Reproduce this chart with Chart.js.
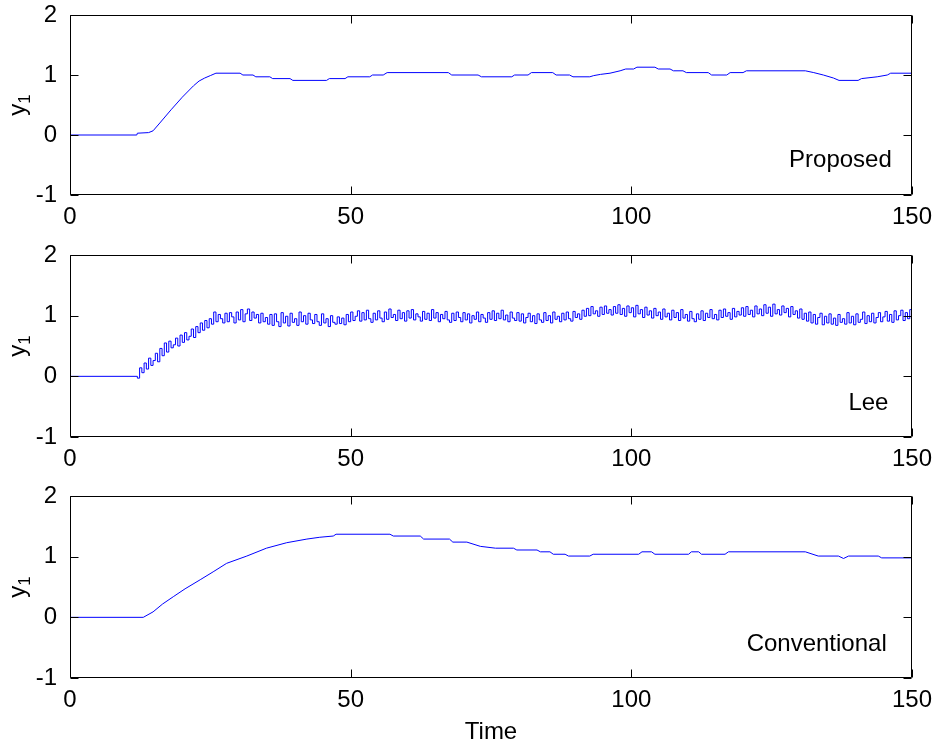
<!DOCTYPE html>
<html><head><meta charset="utf-8">
<script src="https://cdn.jsdelivr.net/npm/chart.js@4/dist/chart.umd.min.js"></script>
<style>
html,body{margin:0;padding:0;background:#fff;}
#wrap{position:relative;width:936px;height:749px;overflow:hidden;background:#fff;}
canvas{position:absolute;left:0;}
</style></head><body>
<div id="wrap">
<canvas id="c1" width="936" height="240" style="top:0px"></canvas>
<canvas id="c2" width="936" height="242" style="top:240px"></canvas>
<canvas id="c3" width="936" height="268" style="top:481px"></canvas>
</div>
<script>
// ---- tick labels ----
const xTicks = [0, 50, 100, 150];
const yTicks = [-1, 0, 1, 2];

// ---- Proposed ----
const propT = [0,11.9,12,14,14.8,16,18,20,22,23,24,25,26,30.3,30.8,32.6,33.1,35.6,36.1,39.2,39.7,45.7,46.2,49,49.5,53.4,53.9,55.8,56.5,67.4,68,72.7,73.3,78.7,79.2,81.6,82.2,86,86.6,89,89.6,92.6,93.3,94.5,96.2,98,99,100.4,101,104.2,104.8,106.9,107.5,109.2,109.8,113.7,114.3,117,117.6,119.9,120.5,131,132.5,134.2,136,137,140.4,141,143.8,145.6,146.2,150];
const propY = [0,0,0.03,0.04,0.07,0.2,0.42,0.63,0.82,0.9,0.95,0.99,1.03,1.03,1.0,1.0,0.97,0.97,0.94,0.94,0.91,0.91,0.94,0.94,0.97,0.97,1.0,1.0,1.04,1.04,1.0,1.0,0.97,0.97,1.0,1.0,1.04,1.04,1.0,1.0,0.97,0.97,0.99,1.01,1.03,1.07,1.1,1.1,1.13,1.13,1.1,1.1,1.07,1.07,1.04,1.04,1.0,1.0,1.04,1.04,1.07,1.07,1.04,1.0,0.95,0.91,0.91,0.94,0.97,1.0,1.03,1.03];

// ---- Lee (sampled every 0.4 from t = 12) ----
const leeStartT = 12;
const leeDt = 0.4;
const leeY = [
-0.03,0.14,0.06,0.22,0.12,0.30,0.18,0.26,0.38,0.24,
0.46,0.34,0.55,0.40,0.58,0.47,0.52,0.63,0.50,0.68,
0.56,0.72,0.60,0.66,0.78,0.64,0.82,0.72,0.88,0.76,
0.92,0.80,0.95,0.86,1.06,0.90,1.02,0.95,0.88,1.04,
0.90,1.05,0.98,0.88,1.06,0.93,1.10,0.90,1.03,1.11,
0.92,1.06,0.96,1.02,0.88,1.04,0.90,0.97,0.86,1.02,
0.84,1.03,0.90,0.82,1.05,0.88,0.99,0.83,1.04,0.89,
0.95,0.84,1.06,0.90,1.00,0.86,1.04,0.93,0.87,1.02,
0.90,0.84,1.03,0.88,0.95,0.82,1.00,0.89,0.86,0.98,
0.87,0.96,0.85,1.02,0.90,1.06,0.92,0.99,1.08,0.91,
1.05,0.93,1.09,0.95,0.89,1.04,0.93,1.08,0.96,0.90,
1.06,0.94,1.11,0.97,1.02,0.92,1.09,0.95,1.05,0.91,
1.08,0.96,1.10,0.93,1.03,0.98,0.91,1.07,0.94,1.04,
0.92,1.10,0.96,1.05,0.90,1.02,0.95,1.07,0.93,0.89,
1.04,0.92,1.06,0.97,0.90,1.05,0.93,1.03,0.88,1.00,
0.94,1.06,0.90,1.02,0.96,0.89,1.05,0.94,1.08,0.92,
1.04,0.95,1.09,0.93,1.01,0.90,1.06,0.96,0.92,1.05,
0.91,1.03,0.88,0.97,1.04,0.90,1.00,0.87,1.03,0.93,
0.89,1.05,0.92,1.00,0.88,1.06,0.94,0.99,0.90,1.04,
0.93,1.06,0.95,0.91,1.07,0.97,1.03,0.94,1.09,0.99,
1.12,1.00,1.15,1.03,1.08,0.99,1.14,1.02,1.16,1.04,
1.10,1.01,1.15,1.04,1.18,1.02,1.12,0.99,1.16,1.05,
1.13,0.98,1.17,1.03,1.10,0.97,1.14,1.01,1.08,0.96,
1.12,1.00,1.06,0.94,1.11,0.98,1.04,0.93,1.09,0.97,
1.05,0.92,1.10,0.96,1.02,0.91,1.07,0.95,0.90,1.03,
0.94,1.08,0.92,1.04,0.97,1.10,0.95,1.02,0.93,1.09,
0.97,1.11,0.99,1.05,0.94,1.12,0.98,1.07,1.01,1.13,
0.99,1.15,1.02,1.09,0.98,1.16,1.03,1.11,1.00,1.18,
1.04,1.14,0.99,1.19,1.03,1.10,1.01,1.16,1.05,1.12,
0.98,1.15,1.02,1.08,0.96,1.11,0.94,1.04,0.91,1.06,
0.88,1.02,0.86,0.97,1.04,0.85,0.99,0.88,1.03,0.86,
0.96,0.84,1.02,0.89,0.95,0.86,1.05,0.88,0.99,0.85,
1.03,0.89,0.94,1.06,0.87,1.00,0.90,1.04,0.88,0.97,
1.05,0.90,0.98,1.07,0.91,1.02,0.89,1.08,0.93,1.00,
1.09,0.92,1.05,0.95,1.10,0.94
];

// ---- Conventional ----
const convT = [0,13.05,14.8,16.5,18.4,20.5,23.2,25.5,27.9,31.5,35,38.6,42.2,44.5,46.9,47.4,57,57.6,62.4,63,67.6,68.2,70.7,73.1,75.8,79,79.6,83.2,83.8,85.5,86.1,88.2,88.8,92.6,93.2,101.3,101.9,103.6,104.2,110.2,110.7,112,112.5,116.7,117.3,131,133.3,136.9,137.8,138.7,144,144.6,150];
const convY = [0,0,0.09,0.22,0.34,0.47,0.62,0.75,0.89,1.01,1.14,1.23,1.29,1.32,1.34,1.37,1.37,1.34,1.34,1.29,1.29,1.24,1.24,1.17,1.14,1.14,1.11,1.11,1.08,1.08,1.04,1.04,1.01,1.01,1.04,1.04,1.08,1.08,1.04,1.04,1.08,1.08,1.04,1.04,1.08,1.08,1.01,1.01,0.97,1.01,1.01,0.98,0.98];

const FAMILY = '"Liberation Sans", Arial, Helvetica, sans-serif';
const tickFont = {family: FAMILY, size: 24};

const framePlugin = {
  id: 'frame',
  afterDatasetsDraw(chart, args, opts) {
    const {ctx, chartArea: a, scales: {x, y}} = chart;
    ctx.save();
    ctx.strokeStyle = '#000';
    ctx.lineWidth = 1;
    const L = Math.round(a.left) + 0.5, R = Math.round(a.right) - 0.5;
    const T = Math.round(a.top) + 0.5, B = Math.round(a.bottom) - 0.5;
    const tl = 8;
    ctx.beginPath();
    ctx.rect(L, T, R - L, B - T);
    xTicks.forEach(v => {
      const px = Math.round(x.getPixelForValue(v)) + 0.5;
      ctx.moveTo(px, B); ctx.lineTo(px, B - tl);
      ctx.moveTo(px, T); ctx.lineTo(px, T + tl);
    });
    yTicks.forEach(v => {
      const py = Math.round(y.getPixelForValue(v)) + 0.5;
      ctx.moveTo(L, py); ctx.lineTo(L + tl, py);
      ctx.moveTo(R, py); ctx.lineTo(R - tl, py);
    });
    ctx.stroke();

    ctx.fillStyle = '#000';
    ctx.font = '24px ' + FAMILY;
    ctx.textAlign = 'right';
    ctx.textBaseline = 'alphabetic';
    ctx.fillText(opts.label, x.getPixelForValue(opts.lx), y.getPixelForValue(opts.ly));

    const midY = (a.top + a.bottom) / 2;
    ctx.translate(25, midY);
    ctx.rotate(-Math.PI / 2);
    ctx.textAlign = 'left';
    ctx.font = '24px ' + FAMILY;
    const wy = ctx.measureText('y').width;
    ctx.font = '17px ' + FAMILY;
    const w1 = ctx.measureText('1').width;
    const start = -(wy + w1) / 2;
    ctx.font = '24px ' + FAMILY;
    ctx.fillText('y', start, 0);
    ctx.font = '17px ' + FAMILY;
    ctx.fillText('1', start + wy, 5);
    ctx.setTransform(1, 0, 0, 1, 0, 0);

    if (opts.xTitle) {
      ctx.font = '24px ' + FAMILY;
      ctx.textAlign = 'center';
      ctx.fillText(opts.xTitle, (a.left + a.right) / 2, a.bottom + 61);
    }
    ctx.restore();
  }
};

function makeChart(id, dataset, label, lx, ly, xTitle, xh) {
  return new Chart(document.getElementById(id), {
    type: 'line',
    data: {datasets: [dataset]},
    options: {
      responsive: false, animation: false, devicePixelRatio: 1,
      layout: {padding: {top: 15, right: 24, left: 0, bottom: 0}},
      plugins: {
        legend: {display: false}, tooltip: {enabled: false},
        frame: {label, lx, ly, xTitle}
      },
      elements: {point: {radius: 0}},
      scales: {
        x: {
          type: 'linear', min: 0, max: 150,
          grid: {display: false}, border: {display: false},
          afterBuildTicks: s => { s.ticks = xTicks.map(v => ({value: v})); },
          afterFit: s => { s.height = xh; s.paddingLeft = 0; s.paddingRight = 0; },
          ticks: {color: '#000', font: tickFont, padding: 0, maxRotation: 0, autoSkip: false,
                  callback: v => String(v)}
        },
        y: {
          type: 'linear', min: -1, max: 2,
          grid: {display: false}, border: {display: false},
          afterBuildTicks: s => { s.ticks = yTicks.map(v => ({value: v})); },
          afterFit: s => { s.width = 70; s.paddingTop = 0; s.paddingBottom = 0; },
          ticks: {color: '#000', font: tickFont, padding: 5, autoSkip: false,
                  callback: v => String(v)}
        }
      }
    },
    plugins: [framePlugin]
  });
}

const lineStyle = {borderColor: '#0000ff', borderWidth: 1, pointRadius: 0, fill: false, tension: 0};

makeChart('c1', Object.assign({data: propT.map((t, i) => ({x: t, y: propY[i]}))}, lineStyle),
  'Proposed', 146.4, -0.53, null, 45);

const leeData = [{x: 0, y: 0}].concat(leeY.map((v, i) => ({x: leeStartT + i * leeDt, y: v})));
makeChart('c2', Object.assign({data: leeData, stepped: true}, lineStyle),
  'Lee', 145.8, -0.555, null, 45);

makeChart('c3', Object.assign({data: convT.map((t, i) => ({x: t, y: convY[i]}))}, lineStyle),
  'Conventional', 145.5, -0.55, 'Time', 71);
</script>
</body></html>
